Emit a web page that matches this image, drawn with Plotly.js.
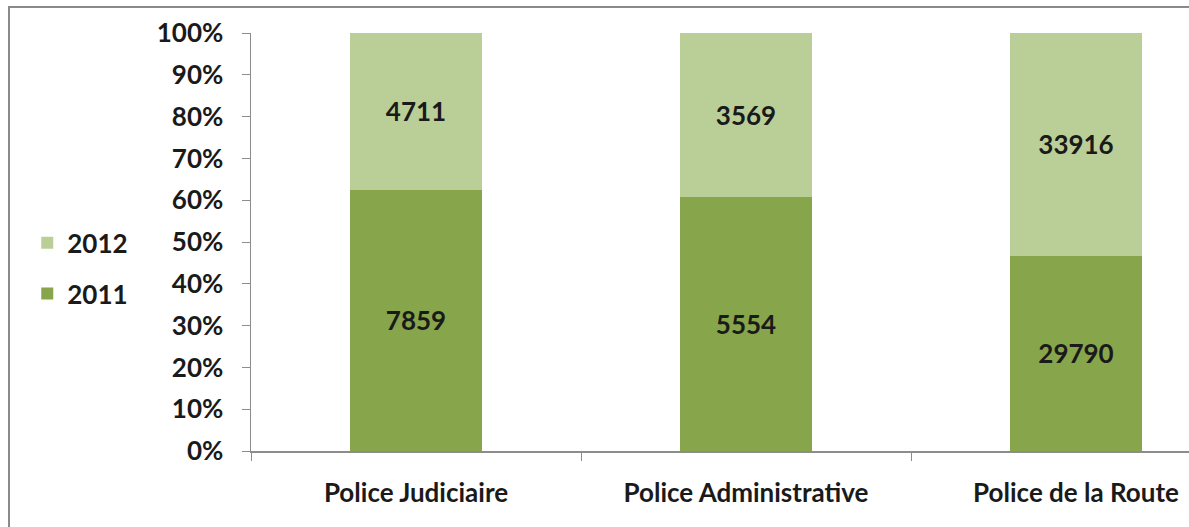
<!DOCTYPE html>
<html>
<head>
<meta charset="utf-8">
<script src="https://cdn.plot.ly/plotly-3.0.1.min.js"></script>
<style>
html,body{margin:0;padding:0;overflow:hidden;background:#fff;}
#wrap{position:relative;width:1189px;height:527px;overflow:hidden;}
#chart{position:absolute;left:0;top:0;width:1262px;height:527px;}
#frame{position:absolute;left:8px;top:6px;width:1300px;height:560px;border:2px solid #8a8a8a;pointer-events:none;}
</style>
</head>
<body>
<div id="wrap"><div id="chart"></div><div id="frame"></div></div>
<script>
var categories = ["Police Judiciaire", "Police Administrative", "Police de la Route"];
var values2011 = [7859, 5554, 29790];
var values2012 = [4711, 3569, 33916];
var seriesNames = ["2011", "2012"];

var FONT = "Lato, 'Open Sans', sans-serif";
var SIZE = 26;
var txt = {family: FONT, size: SIZE, color: "#1a1a1a", weight: "bold"};

var traces = [
  {type: "bar", name: seriesNames[0], x: categories, y: values2011, text: values2011.map(String),
   textposition: "inside", insidetextanchor: "middle", textfont: txt, constraintext: "none",
   marker: {color: "#87a54b"}, legendgroup: "a", legendrank: 2, hoverinfo: "skip"},
  {type: "bar", name: seriesNames[1], x: categories, y: values2012, text: values2012.map(String),
   textposition: "inside", insidetextanchor: "middle", textfont: txt, constraintext: "none",
   marker: {color: "#bacf97"}, legendgroup: "b", legendrank: 1, hoverinfo: "skip"}
];

var layout = {
  width: 1262, height: 527,
  margin: {l: 251, r: 21, t: 33, b: 76},
  barmode: "stack", barnorm: "percent", bargap: 0.6,
  paper_bgcolor: "rgba(0,0,0,0)", plot_bgcolor: "rgba(0,0,0,0)",
  font: {family: FONT, size: SIZE, color: "#1a1a1a", weight: "bold"},
  showlegend: true,
  legend: {x: -0.226, xanchor: "left", y: 0.437, yanchor: "middle",
           traceorder: "grouped", tracegroupgap: 14,
           font: {family: FONT, size: SIZE, color: "#1a1a1a", weight: "bold"},
           bgcolor: "rgba(0,0,0,0)"},
  xaxis: {type: "category", range: [-0.5, 2.5], showline: true, linecolor: "#8c8c8c", linewidth: 1.5,
          ticks: "outside", tickson: "boundaries", ticklen: 8, tickcolor: "#8c8c8c", ticklabelstandoff: 18,
          showgrid: false, zeroline: false, tickfont: txt},
  yaxis: {range: [0, 100], dtick: 10, ticksuffix: "%", showline: true, linecolor: "#8c8c8c", linewidth: 1.5,
          ticks: "outside", ticklen: 8, tickcolor: "#8c8c8c", ticklabelstandoff: 13,
          showgrid: false, zeroline: false, tickfont: txt}
};

Plotly.newPlot("chart", traces, layout, {displayModeBar: false, staticPlot: true});
</script>
</body>
</html>
